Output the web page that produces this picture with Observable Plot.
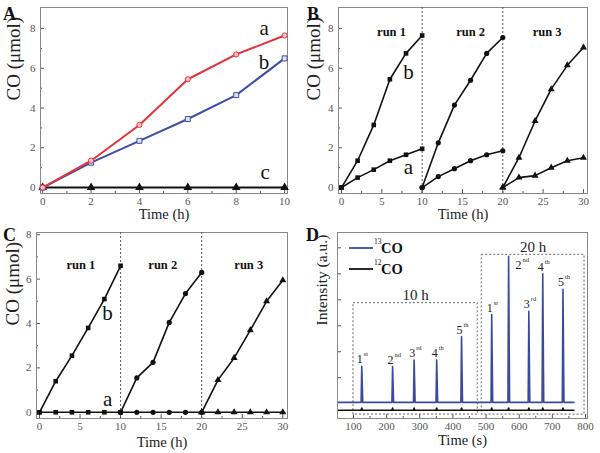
<!DOCTYPE html>
<html><head><meta charset="utf-8">
<script src="https://cdn.jsdelivr.net/npm/d3@7"></script>
<script src="https://cdn.jsdelivr.net/npm/@observablehq/plot@0.6"></script>
<style>
body{margin:0;background:#fff;}
#fig{position:relative;width:600px;height:453px;overflow:hidden;background:#fff;font-family:'Liberation Serif',serif;}
#fig svg, #fig svg text{font-family:'Liberation Serif',serif !important;}
.panel{position:absolute;}
.letter{position:absolute;font-weight:bold;font-size:18px;color:#111;line-height:1;font-family:'Liberation Serif',serif;}
</style></head><body>
<div id="fig">
  <div class="panel" id="pA" style="left:0;top:0"></div>
  <div class="panel" id="pB" style="left:300px;top:0"></div>
  <div class="panel" id="pC" style="left:0;top:225px"></div>
  <div class="panel" id="pD" style="left:300px;top:225px"></div>
  <div class="letter" style="left:3px;top:5px">A</div>
  <div class="letter" style="left:307px;top:5px">B</div>
  <div class="letter" style="left:3px;top:226px">C</div>
  <div class="letter" style="left:306px;top:226px">D</div>
  <svg id="legD" width="600" height="453" style="position:absolute;left:0;top:0;pointer-events:none"></svg>
</div>
<script>
// ---------- Panel A data ----------
const timeA = [0, 2, 4, 6, 8, 10];
const coA_a = [0, 1.35, 3.15, 5.45, 6.7, 7.65];
const coA_b = [0, 1.25, 2.35, 3.45, 4.65, 6.5];
const coA_c = [0, 0, 0, 0, 0, 0];
const ticksA_x = [0, 2, 4, 6, 8, 10];
const minorA_x = [1, 3, 5, 7, 9];
const ticksAB_y = [0, 2, 4, 6, 8];
const minorAB_y = [1, 3, 5, 7];
const labelsA = [{text: "a", t: 9.15, v: 8.03}, {text: "b", t: 9.15, v: 6.3}, {text: "c", t: 9.2, v: 0.77}];

// ---------- Panels B & C data ----------
const runTimes = [[0, 2, 4, 6, 8, 10], [10, 12, 14, 16, 18, 20], [20, 22, 24, 26, 28, 30]];
const runNames = ["run 1", "run 2", "run 3"];
const runSymbols = ["square", "circle", "triangle"];
const runBounds = [10, 20];
const coB_b = [[0, 1.35, 3.15, 5.45, 6.75, 7.65], [0, 2.25, 4.15, 5.4, 6.75, 7.55], [0, 1.5, 3.35, 4.95, 6.15, 7.05]];
const coB_a = [[0, 0.5, 0.9, 1.35, 1.65, 1.95], [0, 0.55, 0.95, 1.35, 1.65, 1.85], [0, 0.5, 0.6, 1.0, 1.35, 1.5]];
const runLabelB = [6.2, 16.0, 25.5];
const labelsB = [{text: "b", t: 8.3, v: 5.8}, {text: "a", t: 8.3, v: 1.0}];
const coC_b = [[0, 1.4, 2.55, 3.8, 5.1, 6.6], [0, 1.55, 2.25, 4.05, 5.35, 6.3], [0, 1.45, 2.45, 3.7, 5.0, 5.95]];
const coC_a = [[0, 0, 0, 0, 0, 0], [0, 0, 0, 0, 0, 0], [0, 0, 0, 0, 0, 0]];
const runLabelC = [5.1, 15.2, 25.8];
const labelsC = [{text: "b", t: 8.4, v: 4.44}, {text: "a", t: 8.4, v: 0.6}];
const ticksBC_x = [0, 5, 10, 15, 20, 25, 30];
const minorBC_x = [2.5, 7.5, 12.5, 17.5, 22.5, 27.5];

// ---------- Panel D data ----------
const peakTimes = [125, 218, 283, 351, 426, 517, 568, 629, 671, 732];
const peakHeights = [1.44, 1.43, 1.68, 1.68, 2.58, 3.43, 5.67, 3.56, 5.0, 4.4];
const peakNums = ["1", "2", "3", "4", "5", "1", "2", "3", "4", "5"];
const peakSuffix = ["st", "nd", "rd", "th", "th", "st", "nd", "rd", "th", "th"];
const peakLabelSide = ["top", "top", "top", "top", "top", "top", "right", "top", "top", "top"];
const bump12 = 0.08;
const base13 = 0.05, base12 = -0.25;
const traceStart = 55, traceEnd = 765;
const boxT0 = [100, 487], boxT1 = [475, 797], boxLo = [-0.42, -0.42], boxHi = [3.87, 5.73];
const boxLabels = ["10 h", "20 h"];
const ticksD_x = [100, 200, 300, 400, 500, 600, 700, 800];
const minorD_x = [150, 250, 350, 450, 550, 650, 750];
const ticksD_y = [1, 2, 3, 4, 5, 6];

// ---------- helpers ----------
const FONT = "'Liberation Serif', serif";
const AX = "#555";
function axes(xt, xm, yt, ym, showY) {
  return [
    Plot.axisX({ticks: xt, tickSize: -4, tickPadding: 8, fontSize: 11, fontFamily: FONT, color: AX, tickFormat: d => String(d), label: null}),
    Plot.axisX({ticks: xm, tickSize: -2, tickFormat: () => "", color: AX, label: null}),
    Plot.axisY({ticks: yt, tickSize: -4, tickPadding: 9, fontSize: 11, fontFamily: FONT, color: AX, tickFormat: showY ? (d => String(d)) : (() => ""), label: null}),
    Plot.axisY({ticks: ym, tickSize: -2, tickFormat: () => "", color: AX, label: null}),
    Plot.frame({stroke: "#888", strokeWidth: 1})
  ];
}
function titles(xl, xdy, yl, ydx, yfs) {
  return [
    Plot.text([xl], {text: d => d, frameAnchor: "bottom", dy: xdy, fontSize: 14.5, fontFamily: FONT, fill: "#222", lineAnchor: "middle"}),
    Plot.text([yl], {text: d => d, frameAnchor: "left", rotate: -90, dx: ydx, fontSize: yfs, fontFamily: FONT, fill: "#222"})
  ];
}
const plotStyle = "font-family: 'Liberation Serif', serif; background: transparent; overflow: visible;";

// ---------- Panel A ----------
const rowsA = timeA.map((t, i) => ({t, a: coA_a[i], b: coA_b[i], c: coA_c[i]}));
document.getElementById("pA").append(Plot.plot({
  width: 300, height: 225, marginLeft: 40, marginRight: 13, marginTop: 7, marginBottom: 32, style: plotStyle,
  x: {domain: [-0.09, 10.12]}, y: {domain: [-0.3, 9.06]},
  marks: [
    ...axes(ticksA_x, minorA_x, ticksAB_y, minorAB_y, true),
    ...titles("Time (h)", 21, "CO (μmol)", -27, 19),
    Plot.line(rowsA, {x: "t", y: "c", stroke: "#111", strokeWidth: 2}),
    Plot.dot(rowsA, {x: "t", y: "c", symbol: "triangle", fill: "#111", r: 3.2}),
    Plot.line(rowsA, {x: "t", y: "b", stroke: "#3f4ea3", strokeWidth: 2}),
    Plot.dot(rowsA, {x: "t", y: "b", symbol: "square", fill: "#dfe3f6", stroke: "#3f4ea3", strokeWidth: 1, r: 2.8}),
    Plot.line(rowsA, {x: "t", y: "a", stroke: "#e3323b", strokeWidth: 2}),
    Plot.dot(rowsA, {x: "t", y: "a", symbol: "circle", fill: "#f6c4c4", stroke: "#e3323b", strokeWidth: 1, r: 2.6}),
    Plot.text(labelsA, {x: "t", y: "v", text: "text", fontSize: 21, fontFamily: FONT, fill: "#111"})
  ]
}));

// ---------- Panels B & C ----------
function runPanel(el, bVals, aVals, runLabelX, seriesLabels, cfg) {
  const marks = [
    ...axes(ticksBC_x, minorBC_x, cfg.yt, cfg.ym, true),
    ...titles("Time (h)", cfg.xdy, "CO (μmol)", cfg.ydx, 19),
    Plot.ruleX(runBounds, {stroke: "#555", strokeWidth: 1, strokeDasharray: "2,2"})
  ];
  runTimes.forEach((ts, i) => {
    const rows = ts.map((t, j) => ({t, a: aVals[i][j], b: bVals[i][j]}));
    marks.push(
      Plot.line(rows, {x: "t", y: "b", stroke: "#111", strokeWidth: 1.6}),
      Plot.line(rows, {x: "t", y: "a", stroke: "#111", strokeWidth: 1.6}),
      Plot.dot(rows, {x: "t", y: "b", symbol: runSymbols[i], fill: "#111", r: 2.6}),
      Plot.dot(rows, {x: "t", y: "a", symbol: runSymbols[i], fill: "#111", r: 2.6})
    );
  });
  marks.push(
    Plot.text(runNames.map((n, i) => ({n, t: runLabelX[i]})), {x: "t", text: "n", frameAnchor: "top", dy: cfg.runDy, fontSize: 12.5, fontWeight: "bold", fontFamily: FONT, fill: "#111"}),
    Plot.text(seriesLabels, {x: "t", y: "v", text: "text", fontSize: 21, fontFamily: FONT, fill: "#111"})
  );
  document.getElementById(el).append(Plot.plot({
    width: 300, height: cfg.h, marginLeft: cfg.ml, marginRight: 13, marginTop: 7, marginBottom: cfg.h - 193, style: plotStyle,
    x: {domain: cfg.xd}, y: {domain: cfg.yd}, marks
  }));
}
runPanel("pB", coB_b, coB_a, runLabelB, labelsB, {h: 225, ml: 38, xd: [-0.37, 30.5], yd: [-0.3, 9.06], yt: ticksAB_y, ym: minorAB_y, xdy: 21, ydx: -25, runDy: 20});
runPanel("pC", coC_b, coC_a, runLabelC, labelsC, {h: 228, ml: 36, xd: [-0.37, 30.58], yd: [-0.28, 8.1], yt: [0, 2, 4, 6, 8], ym: [1, 3, 5, 7], xdy: 24, ydx: -24, runDy: 28});

// ---------- Panel D ----------
const trace13 = [{t: traceStart, v: base13}];
const trace12 = [{t: traceStart, v: base12}];
peakTimes.forEach((t, i) => {
  trace13.push({t: t - 2, v: base13}, {t, v: peakHeights[i]}, {t: t + 3, v: base13});
  trace12.push({t: t - 2, v: base12}, {t, v: base12 + bump12}, {t: t + 2, v: base12});
});
trace13.push({t: traceEnd, v: base13});
trace12.push({t: traceEnd, v: base12});
const peaks = peakTimes.map((t, i) => ({t, h: peakHeights[i], n: peakNums[i], s: peakSuffix[i], side: peakLabelSide[i]}));
const pTop = peaks.filter(d => d.side === "top"), pRight = peaks.filter(d => d.side === "right");
const boxes = boxLabels.map((label, i) => ({label, t0: boxT0[i], t1: boxT1[i], lo: boxLo[i], hi: boxHi[i], mid: (boxT0[i] + boxT1[i]) / 2}));
document.getElementById("pD").append(Plot.plot({
  width: 300, height: 228, marginLeft: 37, marginRight: 13, marginTop: 7, marginBottom: 35, style: plotStyle,
  x: {domain: [51.8, 806]}, y: {domain: [-0.57, 6.59]},
  marks: [
    ...axes(ticksD_x, minorD_x, ticksD_y, [], false),
    ...titles("Time (s)", 22, "Intensity (a.u.)", -15, 15.5),
    Plot.rect(boxes, {x1: "t0", x2: "t1", y1: "lo", y2: "hi", fill: "none", stroke: "#666", strokeWidth: 1, strokeDasharray: "2,2"}),
    Plot.text(boxes, {x: "mid", y: "hi", text: "label", lineAnchor: "bottom", dy: -3, fontSize: 15, fontFamily: FONT, fill: "#222"}),
    Plot.line(trace12, {x: "t", y: "v", stroke: "#111", strokeWidth: 1.6}),
    Plot.line(trace13, {x: "t", y: "v", stroke: "#3a4a9c", strokeWidth: 1.6}),
    Plot.text(pTop, {x: "t", y: "h", text: "n", lineAnchor: "bottom", dx: -2, dy: -3, fontSize: 12, fontFamily: FONT, fill: "#222"}),
    Plot.text(pTop, {x: "t", y: "h", text: "s", lineAnchor: "bottom", textAnchor: "start", dx: 2, dy: -10, fontSize: 6.5, fontFamily: FONT, fill: "#222"}),
    Plot.text(pRight, {x: "t", y: "h", text: "n", lineAnchor: "middle", dx: 10, dy: 9, fontSize: 12, fontFamily: FONT, fill: "#222"}),
    Plot.text(pRight, {x: "t", y: "h", text: "s", lineAnchor: "middle", textAnchor: "start", dx: 14, dy: 4, fontSize: 6.5, fontFamily: FONT, fill: "#222"})
  ]
}));

// legend for D (inside plot area, top-left)
const leg = d3.select("#legD");
[{c: "#3a4a9c", iso: "13", y: 248}, {c: "#111", iso: "12", y: 269}].forEach(e => {
  leg.append("line").attr("x1", 349).attr("x2", 373).attr("y1", e.y).attr("y2", e.y).attr("stroke", e.c).attr("stroke-width", 1.8);
  leg.append("text").attr("x", 374).attr("y", e.y - 4).attr("font-size", 7.5).attr("fill", "#111").text(e.iso);
  leg.append("text").attr("x", 381).attr("y", e.y + 4.5).attr("font-size", 14.5).attr("font-weight", "bold").attr("fill", "#111").text("CO");
});
</script>
</body></html>
